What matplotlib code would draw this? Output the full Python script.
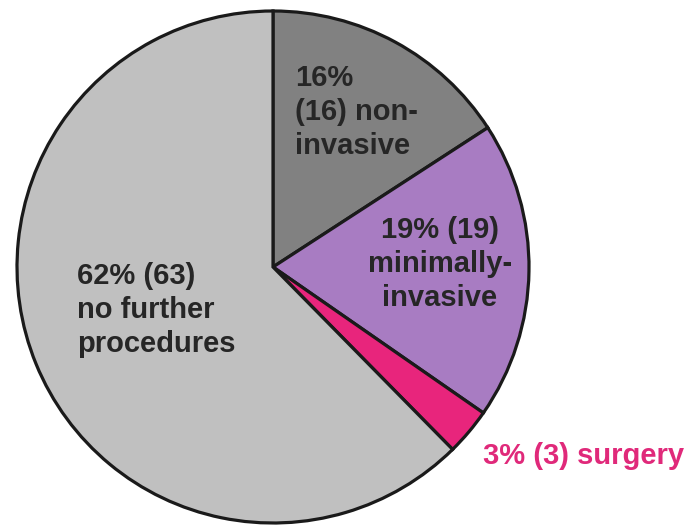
import matplotlib
matplotlib.use('Agg')
import matplotlib.pyplot as plt

# Slice data, clockwise from the top
categories = ['non-invasive', 'minimally-invasive', 'surgery', 'no further procedures']
counts = [16, 19, 3, 63]
percents = [16, 19, 3, 62]
colors = ['#818181', '#a87cc2', '#e8257c', '#c0c0c0']

plt.rcParams['font.family'] = ['Liberation Sans', 'DejaVu Sans']

W, H = 689, 530
fig = plt.figure(figsize=(W / 100, H / 100), dpi=100)
ax = fig.add_axes([0, 0, 1, 1])

cx, cy, r = 273, H - 267, 256
ax.pie(counts, colors=colors, startangle=90, counterclock=False,
       center=(cx, cy), radius=r, frame=True,
       wedgeprops=dict(edgecolor='#1a1a1a', linewidth=2.3))
ax.set_xlim(0, W)
ax.set_ylim(0, H)
ax.set_aspect('equal')
ax.axis('off')

txt = dict(fontsize=21, fontweight='bold', color='#262626', linespacing=1.27)

# labels (pixel positions from the top-left)
ax.text(295, H - 64, f'{percents[0]}%\n({counts[0]}) non-\ninvasive',
        ha='left', va='top', **txt)
ax.text(440, H - 216, f'{percents[1]}% ({counts[1]})\nminimally-\ninvasive',
        ha='center', va='top', multialignment='center', **txt)
ax.text(77, H - 262, f'{percents[3]}% ({counts[3]})\nno further\nprocedures',
        ha='left', va='top', **txt)
ax.text(483, H - 456, f'{percents[2]}% ({counts[2]}) {categories[2]}',
        ha='left', va='center', fontsize=21, fontweight='bold', color='#e0297a')

fig.savefig('out.png', dpi=100, facecolor='white')
